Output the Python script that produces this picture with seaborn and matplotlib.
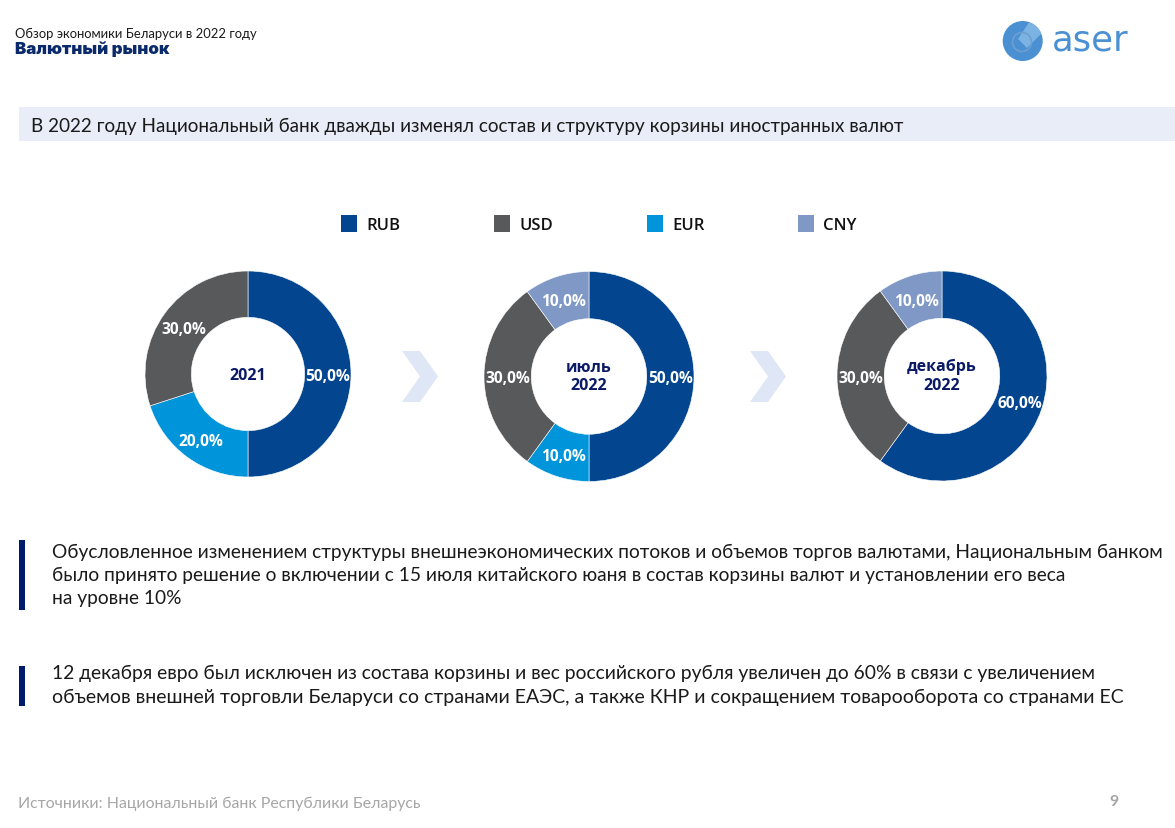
import matplotlib
matplotlib.use('Agg')
import matplotlib.pyplot as plt
from matplotlib.patches import Patch, Polygon, Rectangle, Circle
import seaborn as sns

W, H = 1175, 829

# Currency colours
currency_names = ['RUB', 'USD', 'EUR', 'CNY']
currency_colors = ['#03468F', '#58595B', '#0095DA', '#8098C5']

# Basket shares, clockwise from the top
labels_2021 = ['RUB', 'EUR', 'USD']
values_2021 = [50.0, 20.0, 30.0]
labels_jul = ['RUB', 'EUR', 'USD', 'CNY']
values_jul = [50.0, 10.0, 30.0, 10.0]
labels_dec = ['RUB', 'USD', 'CNY']
values_dec = [60.0, 30.0, 10.0]
center_texts = ['2021', 'июль\n2022', 'декабрь\n2022']

sns.set_theme(style='white')
plt.rcParams['font.family'] = ['Lato', 'Open Sans', 'DejaVu Sans']
palette = dict(zip(currency_names, sns.color_palette(currency_colors)))

fig = plt.figure(figsize=(W / 100, H / 100), dpi=100, facecolor='white')

# Page layer in pixel coordinates
page = fig.add_axes([0, 0, 1, 1])
page.set_xlim(0, W)
page.set_ylim(H, 0)
page.axis('off')

NAVY = '#001A6E'
page.text(15, 33.5, 'Обзор экономики Беларуси в 2022 году', fontsize=9.4, color='#1A1A1A', va='center')
page.text(15, 49.5, 'Валютный рынок', fontsize=12.2, fontweight='black', color='#0B2A6B', va='center', family='Inter')

# Logo
logo = Circle((1022.7, 42), 20, color='#4A90D2', lw=0)
page.add_patch(logo)
stripe = Polygon([(1030, 22), (1043, 33), (1027, 49), (1018, 40)], closed=True, color='#8CC0E8', alpha=0.75, lw=0)
page.add_patch(stripe)
stripe.set_clip_path(logo)
page.add_patch(Circle((1022, 43), 9.5, fill=False, ec='#6F9FCF', lw=1.2))
page.text(1052, 40, 'aser', fontsize=25.5, color='#4A90D2', va='center', family='DejaVu Sans')

# Headline band
page.add_patch(Rectangle((19, 108), W - 19, 34, color='#E8EDF7', lw=0))
page.text(31, 126.5, 'В 2022 году Национальный банк дважды изменял состав и структуру корзины иностранных валют',
          fontsize=13.6, color='#1A1A1A', va='center')

# Chevrons between the donuts
for x0 in [402, 750]:
    page.add_patch(Polygon([(x0, 352), (x0 + 18, 352), (x0 + 36, 377.5), (x0 + 18, 403), (x0, 403), (x0 + 18, 377.5)],
                           closed=True, color='#DFE6F6', lw=0))


def fmt_pct(p):
    return ('%.1f%%' % p).replace('.', ',')


def donut(cx, cy, r, labels, values, center):
    ax = fig.add_axes([(cx - r) / W, 1 - (cy + r) / H, 2 * r / W, 2 * r / H])
    wedges, texts, autotexts = ax.pie(values, colors=[palette[n] for n in labels], startangle=90, counterclock=False,
                                      autopct=fmt_pct, pctdistance=0.775, radius=1,
                                      wedgeprops={'width': 0.45, 'edgecolor': 'white', 'linewidth': 0.4},
                                      textprops={'color': 'white', 'fontsize': 11.2, 'fontweight': 'bold',
                                                 'family': 'Open Sans'})
    ax.set_xlim(-1, 1)
    ax.set_ylim(-1, 1)
    ax.patch.set_alpha(0)
    for w in wedges:
        w.set_clip_on(False)
    for t in autotexts:
        t.set_va('center_baseline')
    # two-line captions sit better with plain center
    va = 'center' if '\n' in center else 'center_baseline'
    ax.text(0, 0.005, center, ha='center', va=va, fontsize=11.5, fontweight='bold', color='#0A1A66',
            family='Open Sans', linespacing=1.2)
    return ax


donut(248, 375, 103, labels_2021, values_2021, center_texts[0])
donut(589, 377.5, 105, labels_jul, values_jul, center_texts[1])
donut(942, 377, 105, labels_dec, values_dec, center_texts[2])

# Shared legend
handles = [Patch(facecolor=palette[n], edgecolor='none', label=n) for n in currency_names]
fig.legend(handles=handles, ncol=4, loc='center left', bbox_to_anchor=(328 / W, 1 - 225 / H), frameon=False,
           handlelength=0.96, handleheight=1.2, handletextpad=0.54, columnspacing=5.64, borderpad=0.3,
           prop={'family': 'Open Sans', 'size': 12, 'weight': 'semibold'}, labelcolor='#111111')

# Comment blocks
page.add_patch(Rectangle((19, 541), 6, 70, color=NAVY, lw=0))
page.add_patch(Rectangle((19, 667), 6, 40, color=NAVY, lw=0))
body_lines = [
    (552.5, 13.8, 'Обусловленное изменением структуры внешнеэкономических потоков и объемов торгов валютами, Национальным банком'),
    (575.5, 13.8, 'было принято решение о включении с 15 июля китайского юаня в состав корзины валют и установлении его веса'),
    (598.5, 13.8, 'на уровне 10%'),
    (673.5, 13.85, '12 декабря евро был исключен из состава корзины и вес российского рубля увеличен до 60% в связи с увеличением'),
    (697.5, 14.0, 'объемов внешней торговли Беларуси со странами ЕАЭС, а также КНР и сокращением товарооборота со странами ЕС'),
]
for y, size, line in body_lines:
    page.text(52, y, line, fontsize=size, color='#1A1A1A', va='center')

# Footer
page.text(18, 804, 'Источники: Национальный банк Республики Беларусь', fontsize=11.45, color='#A6A6A6', va='center')
page.text(1114, 802, '9', fontsize=11.5, fontweight='bold', color='#A6A6A6', va='center', ha='center')

fig.savefig('out.png', dpi=100)
